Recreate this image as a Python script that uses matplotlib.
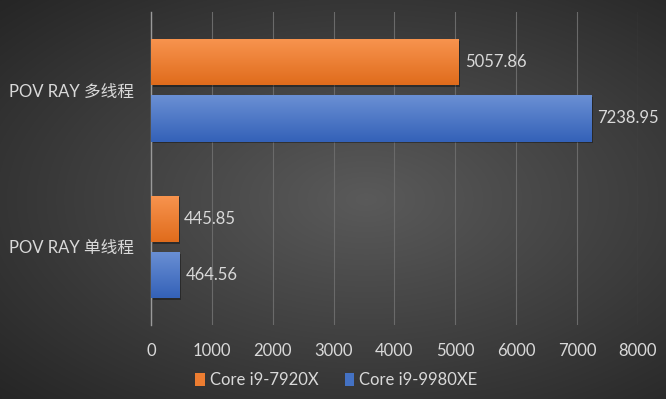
import numpy as np
import matplotlib.pyplot as plt
from matplotlib.colors import LinearSegmentedColormap

plt.rcParams['font.family'] = ['Lato', 'Noto Sans CJK SC', 'DejaVu Sans']

categories = ['POV RAY 单线程', 'POV RAY 多线程']
series_names = ['Core i9-7920X', 'Core i9-9980XE']
scores_7920x = [445.85, 5057.86]
scores_9980xe = [464.56, 7238.95]
xticks = [0, 1000, 2000, 3000, 4000, 5000, 6000, 7000, 8000]

colors = ['#ED7D31', '#4472C4']
tops = ['#F8944F', '#6A8FD4']
bottoms = ['#E06C1C', '#3462B8']
text_color = '#D9D9D9'

fig = plt.figure(figsize=(6.66, 3.99), dpi=100)

# radial gradient background
bg = fig.add_axes([0, 0, 1, 1], zorder=-10)
yy, xx = np.mgrid[0:1:400j, 0:1:667j]
r = np.sqrt(((xx - 0.55) / 0.8) ** 2 + ((yy - 0.5) / 0.75) ** 2)
bg.imshow(r, cmap=LinearSegmentedColormap.from_list('bg', ['#5a5a5a', '#404040', '#262626']),
          aspect='auto', extent=[0, 1, 0, 1], vmin=0, vmax=0.95)
bg.axis('off')

ax = fig.add_axes([0.2267, 0.185, 0.731, 0.785])
ax.patch.set_alpha(0)

y = np.arange(len(categories))
h = 0.295
off = 0.18
groups = [(scores_7920x, y + off), (scores_9980xe, y - off)]
for i, (vals, pos) in enumerate(groups):
    bars = ax.barh(pos, vals, height=h, color=colors[i], zorder=3, label=series_names[i])
    cmap = LinearSegmentedColormap.from_list('g%d' % i, [bottoms[i], tops[i]])
    for b, v, p in zip(bars, vals, pos):
        # soft shadow
        ax.barh(p - 0.012, v, height=h, left=25, color='black', alpha=0.35, zorder=2)
        im = ax.imshow(np.linspace(0, 1, 50).reshape(-1, 1), cmap=cmap, aspect='auto',
                       extent=[0, v, p - h / 2, p + h / 2], origin='lower', zorder=4)
        im.set_clip_path(b)
        ax.text(v + 100, p, f'{v:.2f}', va='center', ha='left', color=text_color, fontsize=12)

ax.set_xlim(0, 8000)
ax.set_ylim(-0.5, 1.5)
ax.set_xticks(xticks)
ax.set_xticklabels([str(t) for t in xticks])
ax.set_yticks(y)
ax.set_yticklabels(categories)
ax.tick_params(axis='both', length=0, colors=text_color, labelsize=12)
ax.tick_params(axis='y', labelsize=12, pad=12)
ax.tick_params(axis='x', pad=13)
ax.grid(axis='x', color='#6a6a6a', linewidth=0.8, zorder=0)
for s in ['top', 'right', 'bottom']:
    ax.spines[s].set_visible(False)
ax.spines['left'].set_color('#9a9a9a')
ax.spines['left'].set_linewidth(1)

leg = fig.legend(*ax.get_legend_handles_labels(), loc='center', bbox_to_anchor=(0.505, 0.047),
                 ncol=2, frameon=False, fontsize=12, handlelength=0.55, handleheight=0.8,
                 handletextpad=0.3, columnspacing=1.6, labelcolor=text_color)

fig.savefig('out.png', dpi=100)
